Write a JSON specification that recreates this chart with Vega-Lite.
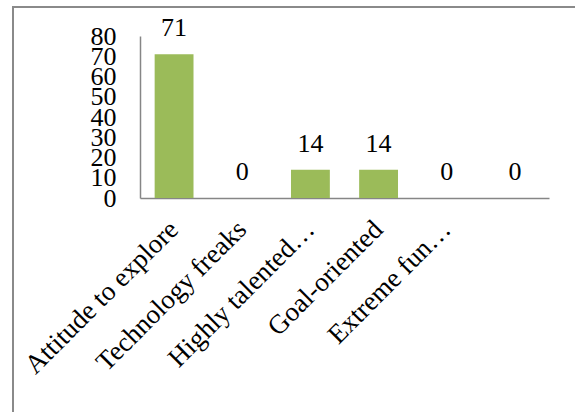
{
  "$schema": "https://vega.github.io/schema/vega-lite/v6.json",
  "width": 572,
  "height": 415,
  "autosize": {"type": "none"},
  "padding": {"left": 13, "top": 7, "right": 0, "bottom": 0},
  "background": "white",
  "config": {
    "font": "Liberation Serif",
    "axis": {"labelFont": "Liberation Serif"},
    "text": {"font": "Liberation Serif"},
    "view": {"stroke": "#8a8a8a", "strokeWidth": 2}
  },
  "data": {
    "values": [
      {"category": "Attitude to explore", "value": 71},
      {"category": "Technology freaks", "value": 0},
      {"category": "Highly talented…", "value": 14},
      {"category": "Goal-oriented", "value": 14},
      {"category": "Extreme fun…", "value": 0},
      {"category": "Other", "value": 0}
    ]
  },
  "encoding": {
    "x": {
      "field": "category",
      "type": "nominal",
      "sort": null,
      "scale": {"range": [127, 536], "paddingInner": 0.43, "paddingOuter": 0.215},
      "axis": {
        "title": null,
        "orient": "bottom",
        "offset": -224,
        "domainColor": "#868686",
        "domainWidth": 1.5,
        "ticks": false,
        "labelAngle": -45,
        "labelAlign": "right",
        "labelBaseline": "middle",
        "labelFont": "Liberation Serif",
        "labelFontSize": 27,
        "labelColor": "black",
        "labelPadding": 27,
        "labelDx": 6,
        "labelLimit": 400,
        "labelOverlap": false,
        "labelExpr": "datum.value == 'Other' ? '' : datum.label"
      }
    },
    "y": {
      "field": "value",
      "type": "quantitative",
      "scale": {"domain": [0, 80], "range": [191, 29], "nice": false},
      "axis": {
        "title": null,
        "orient": "left",
        "offset": -127,
        "values": [0, 10, 20, 30, 40, 50, 60, 70, 80],
        "grid": false,
        "ticks": false,
        "domainColor": "#868686",
        "domainWidth": 1.5,
        "labelFont": "Liberation Serif",
        "labelFontSize": 26,
        "labelColor": "black",
        "labelPadding": 24,
        "labelOverlap": false,
        "labelFlush": false
      }
    }
  },
  "layer": [
    {"mark": {"type": "bar", "color": "#9BBB59"}},
    {
      "mark": {"type": "text", "font": "Liberation Serif", "fontSize": 26, "color": "black", "baseline": "alphabetic", "dy": -18},
      "encoding": {"text": {"field": "value", "type": "quantitative"}}
    }
  ]
}
